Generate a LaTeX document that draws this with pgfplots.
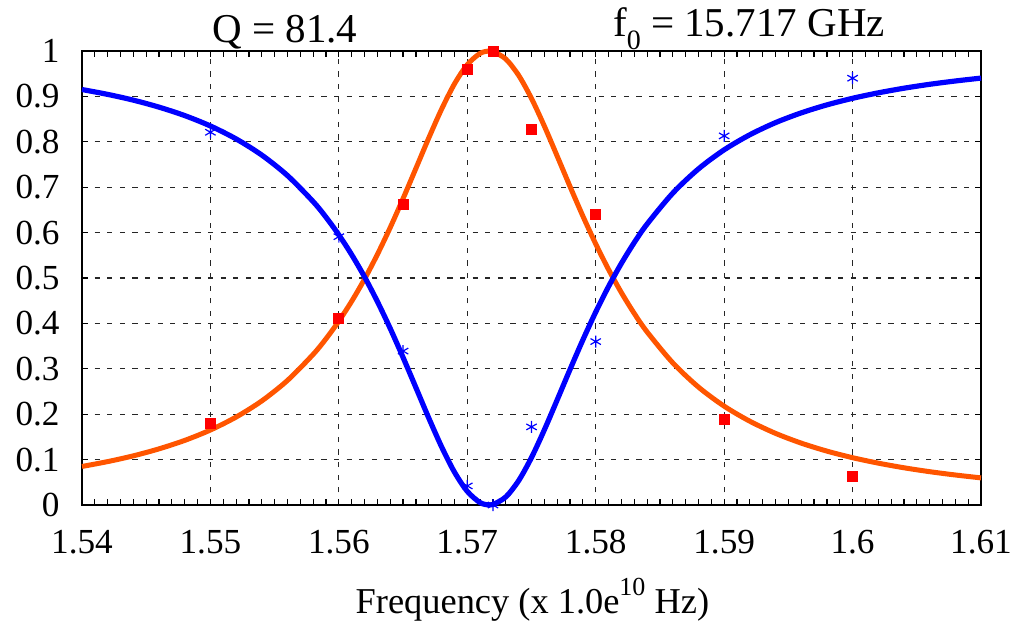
\documentclass[border=0pt]{standalone}
\usepackage{pgfplots}
\pgfplotsset{compat=1.18}
\usepackage{fontspec}
\setmainfont{Liberation Serif}
\definecolor{fitorange}{RGB}{255,85,0}
\definecolor{fitblue}{RGB}{0,0,255}
\begin{document}
\begin{tikzpicture}
\begin{axis}[
  name=ax,
  scale only axis,
  width=449.5pt, height=227pt,
  xmin=1.54, xmax=1.61, ymin=0, ymax=1,
  clip=false,
  /pgf/number format/assume math mode=true,
  axis line style={black, line width=0.75pt},
  xtick={1.54,1.55,1.56,1.57,1.58,1.59,1.60,1.61},
  xticklabels={1.54,1.55,1.56,1.57,1.58,1.59,1.6,1.61},
  ytick={0,0.1,0.2,0.3,0.4,0.5,0.6,0.7,0.8,0.9,1},
  yticklabels={0,0.1,0.2,0.3,0.4,0.5,0.6,0.7,0.8,0.9,1},
  minor x tick num=9,
  tick align=inside,
  xtick pos=both, ytick pos=both,
  major tick length=3pt, minor tick length=3pt,
  tick style={black, line width=0.6pt},
  xmajorgrids, ymajorgrids,
  major grid style={black!85, line width=0.6pt, dash pattern=on 2.6pt off 3.7pt},
  ticklabel style={font=\fontsize{17.6}{20}\selectfont},
  xticklabel style={anchor=base, yshift=-24pt},
  yticklabel style={anchor=east, inner sep=0pt, xshift=-11pt},
]
\addplot[fitorange, line width=2.5pt, smooth] coordinates {
(1.540,0.0849)(1.542,0.0956)(1.544,0.1083)(1.546,0.1237)(1.548,0.1423)(1.550,0.1652)
(1.552,0.1937)(1.554,0.2293)(1.556,0.2744)(1.558,0.3318)(1.559,0.3662)(1.560,0.4051)
(1.561,0.4488)(1.562,0.4976)(1.563,0.5519)(1.564,0.6112)(1.565,0.6750)(1.566,0.7415)
(1.567,0.8084)(1.568,0.8719)(1.569,0.9275)(1.570,0.9699)(1.571,0.9948)(1.5717,1.0)
(1.572,0.9990)(1.573,0.9822)(1.574,0.9463)(1.575,0.8954)(1.576,0.8345)(1.577,0.7684)
(1.578,0.7014)(1.579,0.6363)(1.580,0.5750)(1.581,0.5187)(1.582,0.4677)(1.583,0.4219)
(1.584,0.3812)(1.586,0.3131)(1.588,0.2597)(1.590,0.2177)(1.592,0.1845)(1.594,0.1578)
(1.596,0.1363)(1.598,0.1187)(1.600,0.1042)(1.602,0.0922)(1.604,0.0820)(1.606,0.0734)
(1.608,0.0661)(1.610,0.0597)};
\addplot[fitblue, line width=2.6pt, smooth] coordinates {
(1.540,0.9151)(1.542,0.9044)(1.544,0.8917)(1.546,0.8763)(1.548,0.8577)(1.550,0.8348)
(1.552,0.8063)(1.554,0.7707)(1.556,0.7256)(1.558,0.6682)(1.559,0.6338)(1.560,0.5949)
(1.561,0.5512)(1.562,0.5024)(1.563,0.4481)(1.564,0.3888)(1.565,0.3250)(1.566,0.2585)
(1.567,0.1916)(1.568,0.1281)(1.569,0.0725)(1.570,0.0301)(1.571,0.0052)(1.5717,0.0)
(1.572,0.0010)(1.573,0.0178)(1.574,0.0537)(1.575,0.1046)(1.576,0.1655)(1.577,0.2316)
(1.578,0.2986)(1.579,0.3637)(1.580,0.4250)(1.581,0.4813)(1.582,0.5323)(1.583,0.5781)
(1.584,0.6188)(1.586,0.6869)(1.588,0.7403)(1.590,0.7823)(1.592,0.8155)(1.594,0.8422)
(1.596,0.8637)(1.598,0.8813)(1.600,0.8958)(1.602,0.9078)(1.604,0.9180)(1.606,0.9266)
(1.608,0.9339)(1.610,0.9403)};
\addplot[only marks, mark=square*, mark size=2.5pt, red, mark options={fill=red, draw=red}] coordinates {
(1.55,0.180)(1.56,0.411)(1.565,0.662)(1.57,0.960)(1.572,1.0)(1.575,0.828)(1.58,0.639)(1.59,0.189)(1.60,0.062)};
\addplot[only marks, mark=asterisk, mark size=3pt, fitblue, mark options={line width=0.6pt}] coordinates {
(1.55,0.821)(1.56,0.591)(1.565,0.339)(1.57,0.042)(1.572,0.0)(1.575,0.172)(1.58,0.360)(1.59,0.813)(1.60,0.940)};
\node[anchor=base, font=\fontsize{20.5}{23}\selectfont, inner sep=0pt] at (rel axis cs:0.2258,1.0176) {Q = 81.4};
\node[anchor=base, font=\fontsize{20.5}{23}\selectfont, inner sep=0pt] at (rel axis cs:0.742,1.0308) {f\raisebox{-6.5pt}{\fontsize{14}{14}\selectfont 0} = 15.717 GHz};
\node[anchor=base, font=\fontsize{18.2}{21}\selectfont, inner sep=0pt] at (rel axis cs:0.501,-0.2379) {Frequency (x 1.0e\raisebox{9pt}{\fontsize{13}{14}\selectfont 10} Hz)};
\coordinate (bl) at (rel axis cs:-0.0912,-0.2555);
\coordinate (tr) at (rel axis cs:1.0367,1.1123);
\end{axis}
\pgfresetboundingbox
\path[use as bounding box] (bl) rectangle (tr);
\end{tikzpicture}
\end{document}
